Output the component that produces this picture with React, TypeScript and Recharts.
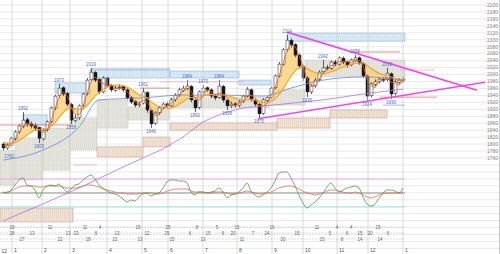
import { ComposedChart, Bar, Line, Area, XAxis, YAxis, CartesianGrid, ReferenceLine, ReferenceArea, ReferenceDot } from 'recharts'

// daily candles (every ~2 sessions), prices in yen
const opens = [1800, 1789, 1797, 1815, 1836, 1850, 1870, 1858, 1853, 1848, 1815, 1842, 1866, 1904, 1940, 1962, 1946, 1914, 1868, 1876, 1912, 1946, 1985, 2006, 1986, 1950, 1990, 1968, 1955, 1962, 1965, 1956, 1934, 1922, 1912, 1918, 1948, 1896, 1860, 1890, 1905, 1916, 1910, 1928, 1942, 1955, 1960, 1966, 1926, 1906, 1950, 1962, 1956, 1938, 1934, 1966, 1926, 1910, 1916, 1912, 1922, 1938, 1956, 1926, 1914, 1888, 1926, 1934, 1962, 1996, 2030, 2072, 2098, 2086, 2056, 2024, 1990, 1950, 1968, 1985, 2008, 2020, 2018, 2036, 2030, 2047, 2036, 2028, 2042, 2048, 2032, 1996, 1940, 1972, 1980, 1986, 1985, 2002, 1946, 1978, 1984]
const closes = [1789, 1797, 1817, 1835, 1852, 1869, 1858, 1852, 1846, 1817, 1840, 1864, 1904, 1938, 1961, 1944, 1915, 1869, 1875, 1910, 1944, 1984, 2007, 1984, 1950, 1990, 1967, 1956, 1961, 1964, 1956, 1933, 1921, 1912, 1915, 1950, 1898, 1858, 1889, 1904, 1915, 1910, 1927, 1941, 1956, 1961, 1967, 1927, 1904, 1950, 1961, 1956, 1938, 1933, 1967, 1927, 1910, 1915, 1912, 1921, 1938, 1958, 1927, 1915, 1887, 1927, 1933, 1961, 1996, 2030, 2071, 2099, 2085, 2056, 2025, 1990, 1950, 1967, 1984, 2007, 2019, 2019, 2036, 2030, 2048, 2036, 2027, 2042, 2048, 2033, 1996, 1938, 1973, 1979, 1987, 1984, 2004, 1944, 1979, 1984, 1987]
const highs = [1806, 1803, 1822, 1840, 1858, 1892, 1876, 1865, 1860, 1850, 1845, 1868, 1908, 1942, 1973, 1966, 1950, 1918, 1884, 1914, 1948, 1990, 2019, 2010, 1990, 1995, 1994, 1972, 1968, 1972, 1968, 1960, 1938, 1926, 1922, 1961, 1952, 1900, 1894, 1910, 1920, 1922, 1932, 1946, 1962, 1968, 1984, 1970, 1930, 1954, 1970, 1966, 1960, 1944, 1984, 1970, 1930, 1922, 1920, 1926, 1942, 1964, 1960, 1930, 1918, 1932, 1938, 1966, 2000, 2036, 2076, 2114, 2104, 2090, 2060, 2028, 1995, 1972, 1990, 2012, 2042, 2028, 2040, 2042, 2052, 2052, 2040, 2046, 2056, 2052, 2036, 2000, 1978, 1986, 1992, 1992, 2019, 2006, 1984, 1990, 1994]
const lows = [1782, 1784, 1793, 1810, 1830, 1846, 1850, 1845, 1838, 1803, 1810, 1836, 1860, 1898, 1933, 1938, 1908, 1858, 1862, 1870, 1906, 1940, 1980, 1978, 1944, 1946, 1962, 1950, 1950, 1956, 1950, 1928, 1915, 1906, 1906, 1914, 1890, 1846, 1855, 1884, 1900, 1904, 1906, 1922, 1936, 1950, 1955, 1920, 1892, 1900, 1945, 1950, 1932, 1926, 1930, 1920, 1898, 1904, 1905, 1906, 1918, 1934, 1922, 1908, 1875, 1884, 1920, 1930, 1958, 1992, 2026, 2066, 2078, 2050, 2018, 1982, 1935, 1944, 1962, 1980, 2002, 2012, 2014, 2024, 2026, 2030, 2020, 2024, 2038, 2028, 1990, 1924, 1934, 1966, 1974, 1978, 1980, 1930, 1940, 1974, 1978]

// moving averages
const maFast = [1795, 1796, 1801, 1816, 1835, 1852, 1860, 1860, 1852, 1838, 1834, 1840, 1869, 1902, 1934, 1948, 1940, 1909, 1886, 1885, 1910, 1946, 1978, 1992, 1980, 1975, 1969, 1971, 1961, 1960, 1960, 1951, 1937, 1922, 1916, 1926, 1921, 1902, 1882, 1884, 1903, 1910, 1917, 1926, 1941, 1953, 1961, 1952, 1933, 1927, 1938, 1956, 1952, 1942, 1946, 1942, 1935, 1917, 1912, 1916, 1924, 1939, 1941, 1933, 1910, 1910, 1916, 1940, 1963, 1996, 2032, 2067, 2085, 2080, 2055, 2024, 1988, 1969, 1967, 1986, 2003, 2015, 2025, 2028, 2038, 2038, 2037, 2035, 2039, 2041, 2026, 1989, 1969, 1963, 1980, 1983, 1992, 1978, 1976, 1970, 1983]
const maMid = [1805, 1803, 1802, 1804, 1810, 1818, 1826, 1834, 1840, 1842, 1843, 1845, 1851, 1862, 1876, 1890, 1900, 1903, 1902, 1900, 1901, 1910, 1925, 1938, 1948, 1957, 1963, 1968, 1970, 1970, 1968, 1964, 1958, 1950, 1942, 1938, 1932, 1922, 1914, 1908, 1905, 1903, 1904, 1908, 1915, 1922, 1930, 1934, 1934, 1935, 1938, 1941, 1943, 1943, 1943, 1942, 1940, 1936, 1932, 1928, 1926, 1927, 1928, 1927, 1923, 1920, 1920, 1923, 1930, 1942, 1958, 1977, 1995, 2010, 2019, 2022, 2018, 2011, 2005, 2002, 2002, 2004, 2008, 2012, 2017, 2022, 2026, 2029, 2032, 2034, 2033, 2026, 2018, 2010, 2004, 2000, 1998, 1993, 1990, 1988, 1987]
const maBluePts = [[0, 1754], [10, 1783], [19, 1849], [24, 1927], [35, 1933], [45, 1941], [55, 1941], [65, 1938], [72, 1961], [80, 1984], [90, 1993], [100, 1984]]
const maLongPts = [[0, 1579], [10, 1628], [20, 1679], [30, 1734], [40, 1786], [45, 1820], [50, 1864], [55, 1889], [60, 1904], [70, 1915], [80, 1927], [90, 1944], [100, 1958]]

// oscillator (0 = centre line)
const oscGreen = [1, 0, 3, 8, 13, 15, 8, 7, 3, -5, 3, 7, 8, 7, 9, 5, 1, 4, 8, 9, 13, 16, 18, 14, 8, 5, 2, 0, -1, -3, -6, -9, -7, -8, -4, -1, 0, -3, -1, 0, 5, 11, 13, 13, 12, 12, 10, 1, -2, 1, 1, 0, 1, 2, 5, 1, -5, -2, -1, 1, 5, 10, 2, -2, -4, -2, 1, 5, 12, 20, 21, 21, 15, 7, -2, -10, -15, -12, -9, -5, 0, 6, 10, 5, 1, 3, 5, 6, 7, 5, -4, -11, -13, -11, -5, 0, 3, 3, 2, 0, 5]
const oscRed = [0, 1, 2, 4, 6, 7, 7, 7, 7, 6, 6, 7, 7, 7, 7, 6, 5, 5, 5, 6, 7, 8, 8, 7, 6, 4, 3, 2, 1, 0, 0, -1, -1, -1, -1, 0, 0, 0, -1, -1, 0, 2, 3, 4, 4, 4, 4, 2, 1, 1, 1, 0, 0, 1, 1, 1, 0, -1, -1, 0, 1, 2, 1, 0, -1, -1, 0, 1, 3, 5, 6, 7, 7, 6, 4, 2, 0, -1, -2, -1, 0, 2, 3, 3, 2, 1, 0, 0, 1, 0, -2, -4, -5, -4, -2, -1, 0, 0, 0, 0, 1]
const oscLevels = [14, 0, -14]

// zones [from, to, top, bottom]
const blueZones = [[5, 11, 1884, 1855], [13, 21.75, 1976, 1947], [21.75, 41.75, 2013, 1990], [41.75, 59, 2010, 1990], [59, 67, 1984, 1970], [71, 100.5, 2119, 2096]]
const cloudZones = [[-0.75, 3, 1783, 1682], [3, 10, 1817, 1697], [10, 16.75, 1846, 1725], [16.75, 23.5, 1875, 1783], [23.5, 31.25, 1927, 1846], [31.25, 41.75, 1907, 1869], [41.75, 66.75, 1935, 1904], [66.75, 75.5, 1956, 1912], [75.5, 100.5, 2042, 1993]]
const tanZones = [[-0.75, 17.5, 1616, 1576], [23.5, 35, 1792, 1763], [35, 41.75, 1820, 1792], [41.75, 68.5, 1861, 1840], [68.5, 81.75, 1875, 1846], [81.75, 96, 1898, 1875]]
const redLevels = [[-0.75, 17, 1855], [34.25, 41.75, 1961], [86.75, 99.25, 2065], [94.25, 108.5, 1935]]
const pinkLevels = [[39.25, 60.5, 1979], [99.25, 108, 2013], [17.5, 23.5, 1740]]
const blueLevels = [[95, 100.5, 1912], [21.75, 41.75, 2016]]
const resistance = [[71, 2122], [118.5, 1955]]
const support = [[63.75, 1873], [120.5, 1978]]

const highMarks = [5, 14, 22, 35, 46, 50, 54, 71, 80, 88, 96]
const lowMarks = [9, 17, 37, 48, 56, 64, 76, 91, 97]
const firstLow = 0

const priceTicks = [2200, 2180, 2160, 2140, 2120, 2100, 2080, 2060, 2040, 2020, 2000, 1980, 1960, 1940, 1920, 1900, 1880, 1860, 1840, 1820, 1800, 1780, 1760]
const gridPrices = Array.from({ length: 36 }, (_, k) => 1500 + k * 20)
const monthStarts = [2.25, 9.75, 16.75, 26, 34.75, 41.25, 50, 58.5, 67.25, 75, 83.5, 91.25, 100]
const monthLabels = ['1', '2', '3', '4', '5', '6', '7', '8', '9', '10', '11', '12', '1']

// turning-point day rows
const row1 = [[2.25, '19'], [11.75, '11'], [20.5, '11'], [24.25, '4'], [33.75, '15'], [41.25, '25'], [48.5, '8'], [53.5, '5'], [58.5, '15'], [67.25, '19'], [78.5, '11'], [83.5, '4'], [87, '4'], [93.75, '15']]
const row2 = [[2.25, '28'], [7.25, '13'], [16.25, '13'], [18.25, '23'], [23.25, '6'], [28.5, '13'], [36, '12'], [41, '25'], [46.75, '6'], [51.25, '15'], [55, '6'], [57.5, '20'], [62.5, '7'], [66, '24'], [73.5, '15'], [81.75, '5'], [86, '6'], [89.25, '15'], [91.75, '20'], [96.25, '6']]
const row3 = [[4.75, '27'], [14.25, '22'], [21.25, '18'], [28, '21'], [34.25, '13'], [42.25, '15'], [50, '13'], [59.75, '11'], [70, '20'], [79.75, '15'], [84.75, '8'], [89.25, '14'], [94.25, '14']]
const rows = [row1, row2, row3]
const rowLevels = [-34, -40, -46]

const blueAt: Record<number, number> = Object.fromEntries(maBluePts)
const longAt: Record<number, number> = Object.fromEntries(maLongPts)

const data = closes.map((c, i) => ({
  i,
  open: opens[i],
  close: c,
  high: highs[i],
  low: lows[i],
  range: [lows[i], highs[i]],
  fast: maFast[i],
  mid: maMid[i],
  ribbon: [Math.min(maFast[i], maMid[i]), Math.max(maFast[i], maMid[i])],
  blue: blueAt[i] ?? null,
  long: longAt[i] ?? null,
  oscG: oscGreen[i],
  oscR: oscRed[i],
}))

const Candle = (props: any) => {
  const { x, y, width, height, payload } = props
  if (height == null || !payload) return null
  const { open, close, high, low } = payload
  const top = Math.min(y, y + height)
  const h = Math.abs(height)
  const k = high === low ? 0 : h / (high - low)
  const yO = top + (high - open) * k
  const yC = top + (high - close) * k
  const cx = x + width / 2
  const up = close >= open
  const bTop = Math.min(yO, yC)
  const bH = Math.max(Math.abs(yC - yO), 0.8)
  return (
    <g>
      <line x1={cx} x2={cx} y1={top} y2={top + h} stroke="#222" strokeWidth={0.7} />
      <rect x={x} y={bTop} width={width} height={bH} fill={up ? '#fff' : '#151515'} stroke="#222" strokeWidth={0.5} />
    </g>
  )
}

// hatched fills like the original zones
const Hatches = () => (
  <svg width={0} height={0} style={{ position: 'absolute' }}>
    <defs>
      <pattern id="hatchGray" width={2} height={4} patternUnits="userSpaceOnUse">
        <rect width={2} height={4} fill="#e4e4dc" />
        <line x1={0.5} y1={0} x2={0.5} y2={4} stroke="#d0d0c6" strokeWidth={0.5} />
      </pattern>
      <pattern id="hatchBlue" width={2} height={4} patternUnits="userSpaceOnUse">
        <rect width={2} height={4} fill="#d8ebf3" />
        <line x1={0.5} y1={0} x2={0.5} y2={4} stroke="#bdd6e4" strokeWidth={0.5} />
      </pattern>
      <pattern id="hatchTan" width={2} height={4} patternUnits="userSpaceOnUse">
        <rect width={2} height={4} fill="#efe3d4" />
        <line x1={0.5} y1={0} x2={0.5} y2={4} stroke="#dcc7b1" strokeWidth={0.5} />
      </pattern>
    </defs>
  </svg>
)

const small = { fontSize: 4.5, fill: '#5070c8' }

export default function App() {
  return (
    <div style={{ position: 'absolute', left: 0, top: 0, width: 500, height: 254, background: '#fff', fontFamily: '"Liberation Sans", Arial, sans-serif' }}>
      <Hatches />
      <ComposedChart width={500} height={254} data={data} margin={{ top: 0, right: 0, bottom: 0, left: 0 }}>
        <XAxis xAxisId="x" dataKey="i" type="number" domain={[-0.75, 124.25]} allowDataOverflow hide />
        <YAxis yAxisId="p" type="number" domain={[1483.9, 2214.4]} allowDataOverflow orientation="right" mirror
          ticks={priceTicks} interval={0} tickSize={0} tickMargin={2}
          tick={{ fontSize: 5, fill: '#888' }} axisLine={{ stroke: '#999' }} />
        <YAxis yAxisId="g" type="number" domain={[1483.9, 2214.4]} allowDataOverflow hide ticks={gridPrices} interval={0} />
        <YAxis yAxisId="o" type="number" domain={[-61, 193]} allowDataOverflow hide />
        <CartesianGrid xAxisId="x" yAxisId="g" vertical={false} horizontalValues={gridPrices} stroke="#e4e4e4" strokeWidth={0.8} />

        {monthStarts.map((m, k) => (
          <ReferenceLine key={'m' + k} xAxisId="x" yAxisId="p" x={m} stroke="#d0d0d0" strokeWidth={0.8}
            label={{ value: monthLabels[k], position: 'insideBottomLeft', offset: 2, fontSize: 5, fill: '#555' }} />
        ))}
        <ReferenceLine xAxisId="x" yAxisId="p" x={-0.6} stroke="#fff" strokeOpacity={0}
          label={{ value: '12', position: 'insideBottomLeft', offset: 1, fontSize: 5, fill: '#555' }} />

        {cloudZones.map((z, k) => (
          <ReferenceArea key={'c' + k} xAxisId="x" yAxisId="p" x1={z[0]} x2={z[1]} y1={z[2]} y2={z[3]}
            fill="url(#hatchGray)" fillOpacity={0.9} stroke="#c8c8bc" strokeWidth={0.5} ifOverflow="visible" />
        ))}
        {blueZones.map((z, k) => (
          <ReferenceArea key={'b' + k} xAxisId="x" yAxisId="p" x1={z[0]} x2={z[1]} y1={z[2]} y2={z[3]}
            fill="url(#hatchBlue)" fillOpacity={0.95} stroke="#9cb8e6" strokeWidth={0.7} ifOverflow="visible" />
        ))}
        {tanZones.map((z, k) => (
          <ReferenceArea key={'t' + k} xAxisId="x" yAxisId="p" x1={z[0]} x2={z[1]} y1={z[2]} y2={z[3]}
            fill="url(#hatchTan)" fillOpacity={0.95} stroke="#e6a2a2" strokeWidth={0.7} ifOverflow="visible" />
        ))}

        {redLevels.map((l, k) => (
          <ReferenceLine key={'r' + k} xAxisId="x" yAxisId="p" segment={[{ x: l[0], y: l[2] }, { x: l[1], y: l[2] }]} stroke="#e06060" strokeWidth={0.7} ifOverflow="visible" />
        ))}
        {pinkLevels.map((l, k) => (
          <ReferenceLine key={'pk' + k} xAxisId="x" yAxisId="p" segment={[{ x: l[0], y: l[2] }, { x: l[1], y: l[2] }]} stroke="#f0a0c8" strokeWidth={0.7} ifOverflow="visible" />
        ))}
        {blueLevels.map((l, k) => (
          <ReferenceLine key={'bl' + k} xAxisId="x" yAxisId="p" segment={[{ x: l[0], y: l[2] }, { x: l[1], y: l[2] }]} stroke="#7c90e0" strokeWidth={0.7} ifOverflow="visible" />
        ))}

        {oscLevels.map((v, k) => (
          <ReferenceLine key={'ol' + k} xAxisId="x" yAxisId="o" segment={[{ x: -0.75, y: v }, { x: 100.5, y: v }]}
            stroke={k === 0 ? '#f0a0f0' : k === 1 ? '#888' : '#90e4e4'} strokeWidth={0.9} ifOverflow="visible" />
        ))}
        {rowLevels.map((v, k) => (
          <ReferenceLine key={'rl' + k} xAxisId="x" yAxisId="o" segment={[{ x: -0.75, y: v }, { x: 100.5, y: v }]}
            stroke="#bbb" strokeWidth={0.5} strokeDasharray="2 1" ifOverflow="visible" />
        ))}

        <Area xAxisId="x" yAxisId="p" dataKey="ribbon" type="linear" stroke="none" fill="#f9cf6e" fillOpacity={0.75} activeDot={false} isAnimationActive={false} />
        <Line xAxisId="x" yAxisId="p" dataKey="long" type="linear" stroke="#b070e0" strokeWidth={0.8} dot={false} activeDot={false} connectNulls isAnimationActive={false} />
        <Line xAxisId="x" yAxisId="p" dataKey="blue" type="monotone" stroke="#6f86e0" strokeWidth={0.8} dot={false} activeDot={false} connectNulls isAnimationActive={false} />
        <Line xAxisId="x" yAxisId="p" dataKey="mid" type="monotone" stroke="#f0a028" strokeWidth={1.1} dot={false} activeDot={false} isAnimationActive={false} />
        <Line xAxisId="x" yAxisId="p" dataKey="fast" type="monotone" stroke="#e8583c" strokeWidth={0.8} dot={false} activeDot={false} isAnimationActive={false} />

        <Line xAxisId="x" yAxisId="o" dataKey="oscR" type="monotone" stroke="#e07060" strokeWidth={0.8} dot={false} activeDot={false} isAnimationActive={false} />
        <Line xAxisId="x" yAxisId="o" dataKey="oscG" type="monotone" stroke="#4f9a4f" strokeWidth={0.8} dot={false} activeDot={false} isAnimationActive={false} />

        <Bar xAxisId="x" yAxisId="p" dataKey="range" barSize={3} shape={Candle} activeBar={false} isAnimationActive={false} />

        <ReferenceLine xAxisId="x" yAxisId="p" segment={[{ x: resistance[0][0], y: resistance[0][1] }, { x: resistance[1][0], y: resistance[1][1] }]} stroke="#ee48ee" strokeWidth={1.6} ifOverflow="visible" />
        <ReferenceLine xAxisId="x" yAxisId="p" segment={[{ x: support[0][0], y: support[0][1] }, { x: support[1][0], y: support[1][1] }]} stroke="#ee48ee" strokeWidth={1.6} ifOverflow="visible" />

        {highMarks.map((i) => (
          <ReferenceDot key={'h' + i} xAxisId="x" yAxisId="p" x={i} y={highs[i]} r={0} stroke="none" ifOverflow="visible"
            label={{ value: String(highs[i]), position: 'top', offset: 2, ...small }} />
        ))}
        {lowMarks.map((i) => (
          <ReferenceDot key={'l' + i} xAxisId="x" yAxisId="p" x={i} y={lows[i]} r={0} stroke="none" ifOverflow="visible"
            label={{ value: String(lows[i]), position: 'bottom', offset: 2, ...small }} />
        ))}
        <ReferenceDot xAxisId="x" yAxisId="p" x={firstLow} y={lows[firstLow]} r={0} stroke="none" ifOverflow="visible"
          label={{ value: String(lows[firstLow]), position: 'right', offset: 1, dy: 6, ...small }} />
        {rows.map((row, k) => row.map((d) => (
          <ReferenceDot key={'d' + k + '-' + d[0]} xAxisId="x" yAxisId="o" x={d[0] as number} y={rowLevels[k]} r={0} stroke="none" ifOverflow="visible"
            label={{ value: d[1] as string, position: 'center', fontSize: 4.5, fill: '#666' }} />
        )))}
      </ComposedChart>
    </div>
  )
}
